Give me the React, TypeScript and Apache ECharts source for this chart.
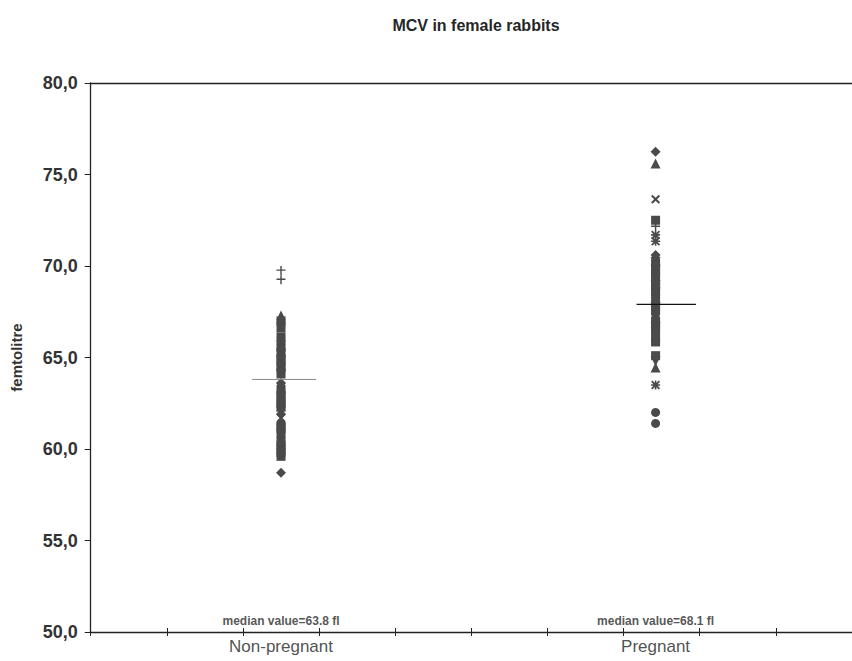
import React, { useEffect, useRef } from "react";
import * as echarts from "echarts";

const chartTitle = "MCV in female rabbits";
const yAxisName = "femtolitre";
const groups = ["Non-pregnant", "Pregnant"];
const groupX = [2.5, 7.42];
const medianText = ["median value=63.8 fl", "median value=68.1 fl"];
const medianLineY = [63.8, 67.9];
const medianLineFrom = [2.12, 7.17];
const medianLineTo = [2.96, 7.95];
const yMin = 50;
const yMax = 80;
const yStep = 5;

// values (fl) per marker type: [Non-pregnant, Pregnant]
const diamondVals = [
  [58.7, 61.9, 63.6, 65.4, 66.9],
  [76.25, 70.6, 70.45, 69.2, 68.0, 66.9],
];
const rectVals = [
  [59.6, 59.8, 60.0, 60.2, 60.4, 60.85, 61.1, 61.25, 62.3, 62.45, 62.75, 62.9, 63.25, 64.1, 64.45, 64.75, 64.9, 65.25, 65.7, 66.1, 66.6, 67.0],
  [72.5, 70.15, 69.8, 69.6, 69.4, 69.0, 68.9, 68.6, 68.2, 67.8, 67.6, 67.0, 66.7, 66.5, 66.1, 65.85, 65.1],
];
const triangleVals = [
  [67.3, 62.6, 64.6],
  [75.6, 64.45, 70.3],
];
const triangleDownVals = [
  [],
  [64.8],
];
const circleVals = [
  [61.4, 63.1, 65.1],
  [62.0, 61.4, 67.4],
];
const crossVals = [
  [61.7, 63.4, 65.9],
  [73.65, 67.2],
];
const starVals = [
  [62.1, 64.3, 65.5],
  [71.7, 71.35, 63.5, 68.8],
];
const plusVals = [
  [69.25, 69.75],
  [72.15, 70.0],
];

const X_PATH =
  "path://M0,1.6L1.6,0L5,3.4L8.4,0L10,1.6L6.6,5L10,8.4L8.4,10L5,6.6L1.6,10L0,8.4L3.4,5Z";
const PLUS_PATH =
  "path://M4.2,0L5.8,0L5.8,3.7L10,3.7L10,5.3L5.8,5.3L5.8,10L4.2,10L4.2,5.3L0,5.3L0,3.7L4.2,3.7Z";
const STAR_PATH =
  "path://M4.1,0L5.9,0L5.9,10L4.1,10Z M0,4.1L10,4.1L10,5.9L0,5.9Z M0,1.4L1.4,0L5,3.6L8.6,0L10,1.4L6.4,5L10,8.6L8.6,10L5,6.4L1.4,10L0,8.6L3.6,5Z";

const markerDefs = [
  { name: "diamond", symbol: "diamond", vals: diamondVals, size: 10, rotate: 0 },
  { name: "rect", symbol: "rect", vals: rectVals, size: 9, rotate: 0 },
  { name: "triangle", symbol: "triangle", vals: triangleVals, size: 10, rotate: 0 },
  { name: "triangleDown", symbol: "triangle", vals: triangleDownVals, size: 10, rotate: 180 },
  { name: "circle", symbol: "circle", vals: circleVals, size: 9, rotate: 0 },
  { name: "cross", symbol: X_PATH, vals: crossVals, size: 9, rotate: 0 },
  { name: "star", symbol: STAR_PATH, vals: starVals, size: 9, rotate: 0 },
  { name: "plus", symbol: PLUS_PATH, vals: plusVals, size: 9, rotate: 0 },
];

const FONT = "'Liberation Sans', Arial, Helvetica, sans-serif";
const INK = "#4a4a4a";

export default function App() {
  const ref = useRef<HTMLDivElement>(null);
  useEffect(() => {
    if (!ref.current) return;
    const chart = echarts.init(ref.current, null, { renderer: "svg" });

    const pointSeries = markerDefs.map((m) => ({
      type: "scatter",
      name: m.name,
      xAxisIndex: 0,
      yAxisIndex: 0,
      symbol: m.symbol,
      symbolSize: m.size,
      symbolRotate: m.rotate,
      itemStyle: { color: INK, opacity: 1 },
      data: m.vals.flatMap((arr, gi) => arr.map((v) => [groupX[gi], v])),
      z: 3,
    }));

    const medianSeries = groups.map((g, gi) => ({
      type: "line",
      name: "median " + g,
      xAxisIndex: 0,
      yAxisIndex: 0,
      symbol: "none",
      lineStyle: { color: gi === 0 ? "#8a8a8a" : "#111", width: gi === 0 ? 1 : 1.3 },
      data: [
        [medianLineFrom[gi], medianLineY[gi]],
        [medianLineTo[gi], medianLineY[gi]],
      ],
      z: 4,
    }));

    const option = {
      animation: false,
      backgroundColor: "#fff",
      title: {
        text: chartTitle,
        left: 471,
        top: 12,
        textAlign: "center",
        textStyle: { fontFamily: FONT, fontWeight: "bold", fontSize: 16, color: "#262626" },
      },
      grid: { left: 90.7, top: 83, width: 767, height: 549, containLabel: false },
      xAxis: [
        {
          type: "value",
          min: 0,
          max: 10,
          interval: 1,
          position: "bottom",
          axisLine: { show: true, lineStyle: { color: "#222", width: 1.3 } },
          axisTick: { show: true, inside: false, length: 4, lineStyle: { color: "#222" } },
          axisLabel: { show: false },
          splitLine: { show: false },
        },
        {
          type: "value",
          min: 0,
          max: 10,
          interval: 1,
          position: "bottom",
          axisLine: { show: false },
          axisTick: { show: true, inside: true, length: 4, lineStyle: { color: "#222" } },
          axisLabel: { show: false },
          splitLine: { show: false },
        },
        {
          type: "value",
          min: 0,
          max: 10,
          position: "top",
          axisLine: { show: true, lineStyle: { color: "#222", width: 1.3 } },
          axisTick: { show: false },
          axisLabel: { show: false },
          splitLine: { show: false },
        },
      ],
      yAxis: {
        type: "value",
        min: yMin,
        max: yMax,
        interval: yStep,
        name: yAxisName,
        nameLocation: "middle",
        nameRotate: 90,
        nameGap: 67,
        nameTextStyle: { fontFamily: FONT, fontWeight: "bold", fontSize: 15, color: "#333" },
        axisLine: { show: true, lineStyle: { color: "#222", width: 1.3 } },
        axisTick: { show: true, inside: false, length: 6, lineStyle: { color: "#222" } },
        axisLabel: {
          margin: 13,
          fontFamily: FONT,
          fontWeight: "bold",
          fontSize: 18,
          color: "#333",
          formatter: (v: number) => v.toFixed(1).replace(".", ","),
        },
        splitLine: { show: false },
      },
      series: [
        ...pointSeries,
        ...medianSeries,
        {
          type: "scatter",
          name: "median labels",
          symbol: "circle",
          symbolSize: 1,
          itemStyle: { color: "transparent" },
          data: medianText.map((t, i) => ({ value: [groupX[i], yMin], name: t })),
          label: {
            show: true,
            position: "top",
            distance: 5,
            formatter: (p: any) => p.name,
            fontFamily: FONT,
            fontWeight: "bold",
            fontSize: 12,
            color: "#2a2a2a",
          },
          z: 5,
        },
        {
          type: "scatter",
          name: "group labels",
          symbol: "circle",
          symbolSize: 1,
          itemStyle: { color: "transparent" },
          data: groups.map((g, i) => ({ value: [groupX[i], yMin], name: g })),
          label: {
            show: true,
            position: "bottom",
            distance: 5,
            formatter: (p: any) => p.name,
            fontFamily: FONT,
            fontSize: 17,
            color: "#222",
          },
          z: 5,
        },
      ],
    };
    chart.setOption(option as any);
    return () => chart.dispose();
  }, []);
  return (
    <div
      ref={ref}
      style={{ position: "absolute", left: 0, top: 0, width: 852, height: 661 }}
    />
  );
}
